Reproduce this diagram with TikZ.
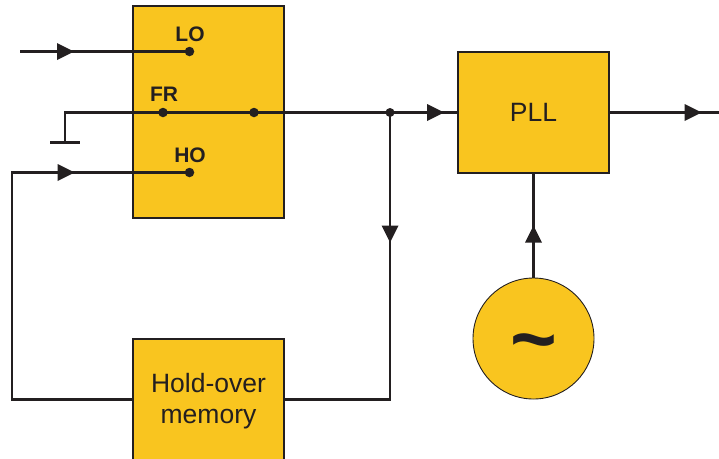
\documentclass[tikz,border=0pt]{standalone}
\usepackage{fontspec}
\setmainfont{Liberation Sans}
\usetikzlibrary{arrows.meta,decorations.markings}
\definecolor{boxfill}{HTML}{F9C51F}
\definecolor{ink}{HTML}{231F20}
\tikzset{
  x=1pt,y=-1pt,
  block/.style={draw=ink,line width=1.1pt,fill=boxfill,minimum width=151pt,inner sep=0pt,align=center,text=ink,font=\fontsize{26.5}{31}\selectfont},
  wire/.style={draw=ink,line width=2.4pt,line join=miter},
  junction/.style={circle,fill=ink,draw=none,minimum size=9.5pt,inner sep=0pt},
  tag/.style={text=ink,inner sep=0pt,font=\fontsize{21}{23}\selectfont\bfseries},
  headat/.style={postaction={decorate,decoration={markings,mark=at position #1 with {\fill[ink] (-16pt,-8.5pt) -- (1pt,0pt) -- (-16pt,8.5pt) -- cycle;}}}}
}
\begin{document}
\begin{tikzpicture}
\useasboundingbox (0,0) rectangle (719,458);
% blocks
\node[block,minimum height=212pt] (sw) at (208.5,112) {};
\node[block,minimum height=121pt] (pll) at (533.5,112.5) {PLL};
\node[block,minimum height=124pt] (hold) at (208.5,401) {Hold-over\\memory};
\node[block,circle,minimum width=121pt,line width=0.9pt] (osc) at (533.5,338.5) {};
\node[text=ink,inner sep=0pt,font=\fontsize{80}{80}\selectfont\bfseries] at (533.5,350) (tilde) {\textasciitilde};
% contacts
\node[junction] (lo) at (189.5,51.5) {};
\node[junction] (fr) at (163,112.5) {};
\node[junction] (sout) at (254,112.5) {};
\node[junction] (ho) at (189.5,172.5) {};
\node[junction,minimum size=9pt] (tap) at (390,112.5) {};
% labels
\node[tag] at (190,34) {LO};
\node[tag] at (164,94) {FR};
\node[tag] at (190,155) {HO};
% free ends
\coordinate (inlo) at (20,51.5);
\coordinate (gndtop) at (65,112.5);
\coordinate (gnd) at (65,142.5);
\coordinate (gndl) at (50,142.5);
\coordinate (gndr) at (80,142.5);
\coordinate (outr) at (719,112.5);
% wires
\draw[wire,headat=53pt] (inlo) -- (lo.center);
\draw[wire] (gnd) -- (gndtop) -- (fr.center);
\draw[wire] (gndl) -- (gndr);
\draw[wire] (fr.center) -- (sout.center);
\draw[wire] (sout.center) -- (tap.center);
\draw[wire,headat=53pt] (tap.center) -- (pll.west);
\draw[wire,headat=91pt] (pll.east) -- (outr);
\draw[wire,headat=129pt] (tap.center) -- (390,399.5) -- (hold.east |- 0,399.5);
\draw[wire,headat=409pt] (hold.west |- 0,399.5) -- (12,399.5) -- (12,172.5) -- (ho.center);
\draw[wire,headat=51pt] (osc.north) -- (pll.south);
\end{tikzpicture}
\end{document}
